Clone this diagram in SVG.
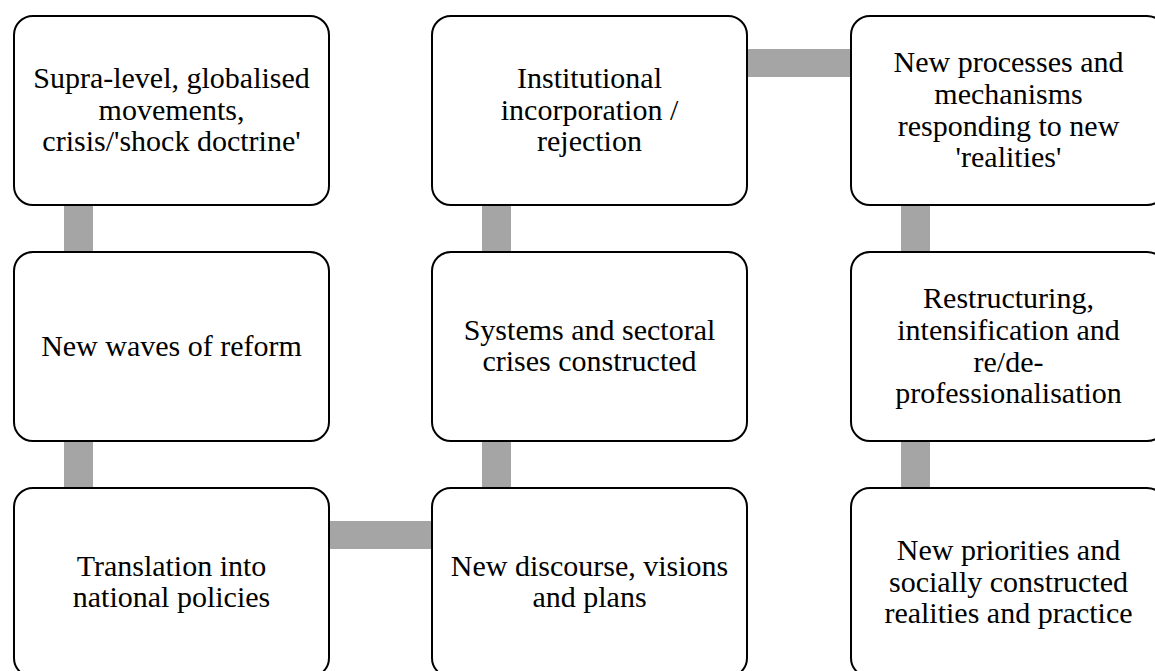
<svg xmlns="http://www.w3.org/2000/svg" width="1155" height="671" viewBox="0 0 1155 671">
<style>
.box{fill:#fff;stroke:#000;stroke-width:2}
.con{fill:#a5a5a5}
text{font-family:"Liberation Serif","Times New Roman",serif;font-size:30px;fill:#000;text-anchor:middle}
</style>
<rect width="1155" height="671" fill="#fff"/>
<g id="connectors">
<rect class="con" x="64" y="204" width="29" height="50"/>
<rect class="con" x="64" y="440" width="29" height="50"/>
<rect class="con" x="328" y="521" width="106" height="28"/>
<rect class="con" x="482" y="440" width="29" height="50"/>
<rect class="con" x="482" y="204" width="29" height="50"/>
<rect class="con" x="746" y="49" width="107" height="28"/>
<rect class="con" x="901" y="204" width="29" height="50"/>
<rect class="con" x="901" y="440" width="29" height="50"/>
</g>
<g id="n1">
<rect class="box" x="14" y="16" width="315" height="189" rx="19"/>
<text x="171.5" y="88">Supra-level, globalised<tspan x="171.5" dy="31.7">movements,</tspan><tspan x="171.5" dy="31.7">crisis/'shock doctrine'</tspan></text>
</g>
<g id="n2">
<rect class="box" x="14" y="252" width="315" height="189" rx="19"/>
<text x="171.5" y="356">New waves of reform</text>
</g>
<g id="n3">
<rect class="box" x="14" y="488" width="315" height="189" rx="19"/>
<text x="171.5" y="575.5">Translation into<tspan x="171.5" dy="31.7">national policies</tspan></text>
</g>
<g id="n4">
<rect class="box" x="432" y="488" width="315" height="189" rx="19"/>
<text x="589.5" y="575.5">New discourse, visions<tspan x="589.5" dy="31.7">and plans</tspan></text>
</g>
<g id="n5">
<rect class="box" x="432" y="252" width="315" height="189" rx="19"/>
<text x="589.5" y="339.5">Systems and sectoral<tspan x="589.5" dy="31.7">crises constructed</tspan></text>
</g>
<g id="n6">
<rect class="box" x="432" y="16" width="315" height="189" rx="19"/>
<text x="589.5" y="88">Institutional<tspan x="589.5" dy="31.7">incorporation /</tspan><tspan x="589.5" dy="31.7">rejection</tspan></text>
</g>
<g id="n7">
<rect class="box" x="851" y="16" width="315" height="189" rx="19"/>
<text x="1008.5" y="72.3">New processes and<tspan x="1008.5" dy="31.7">mechanisms</tspan><tspan x="1008.5" dy="31.7">responding to new</tspan><tspan x="1008.5" dy="31.7">'realities'</tspan></text>
</g>
<g id="n8">
<rect class="box" x="851" y="252" width="315" height="189" rx="19"/>
<text x="1008.5" y="308.3">Restructuring,<tspan x="1008.5" dy="31.7">intensification and</tspan><tspan x="1008.5" dy="31.7">re/de-</tspan><tspan x="1008.5" dy="31.7">professionalisation</tspan></text>
</g>
<g id="n9">
<rect class="box" x="851" y="488" width="315" height="189" rx="19"/>
<text x="1008.5" y="560">New priorities and<tspan x="1008.5" dy="31.7">socially constructed</tspan><tspan x="1008.5" dy="31.7">realities and practice</tspan></text>
</g>
</svg>
